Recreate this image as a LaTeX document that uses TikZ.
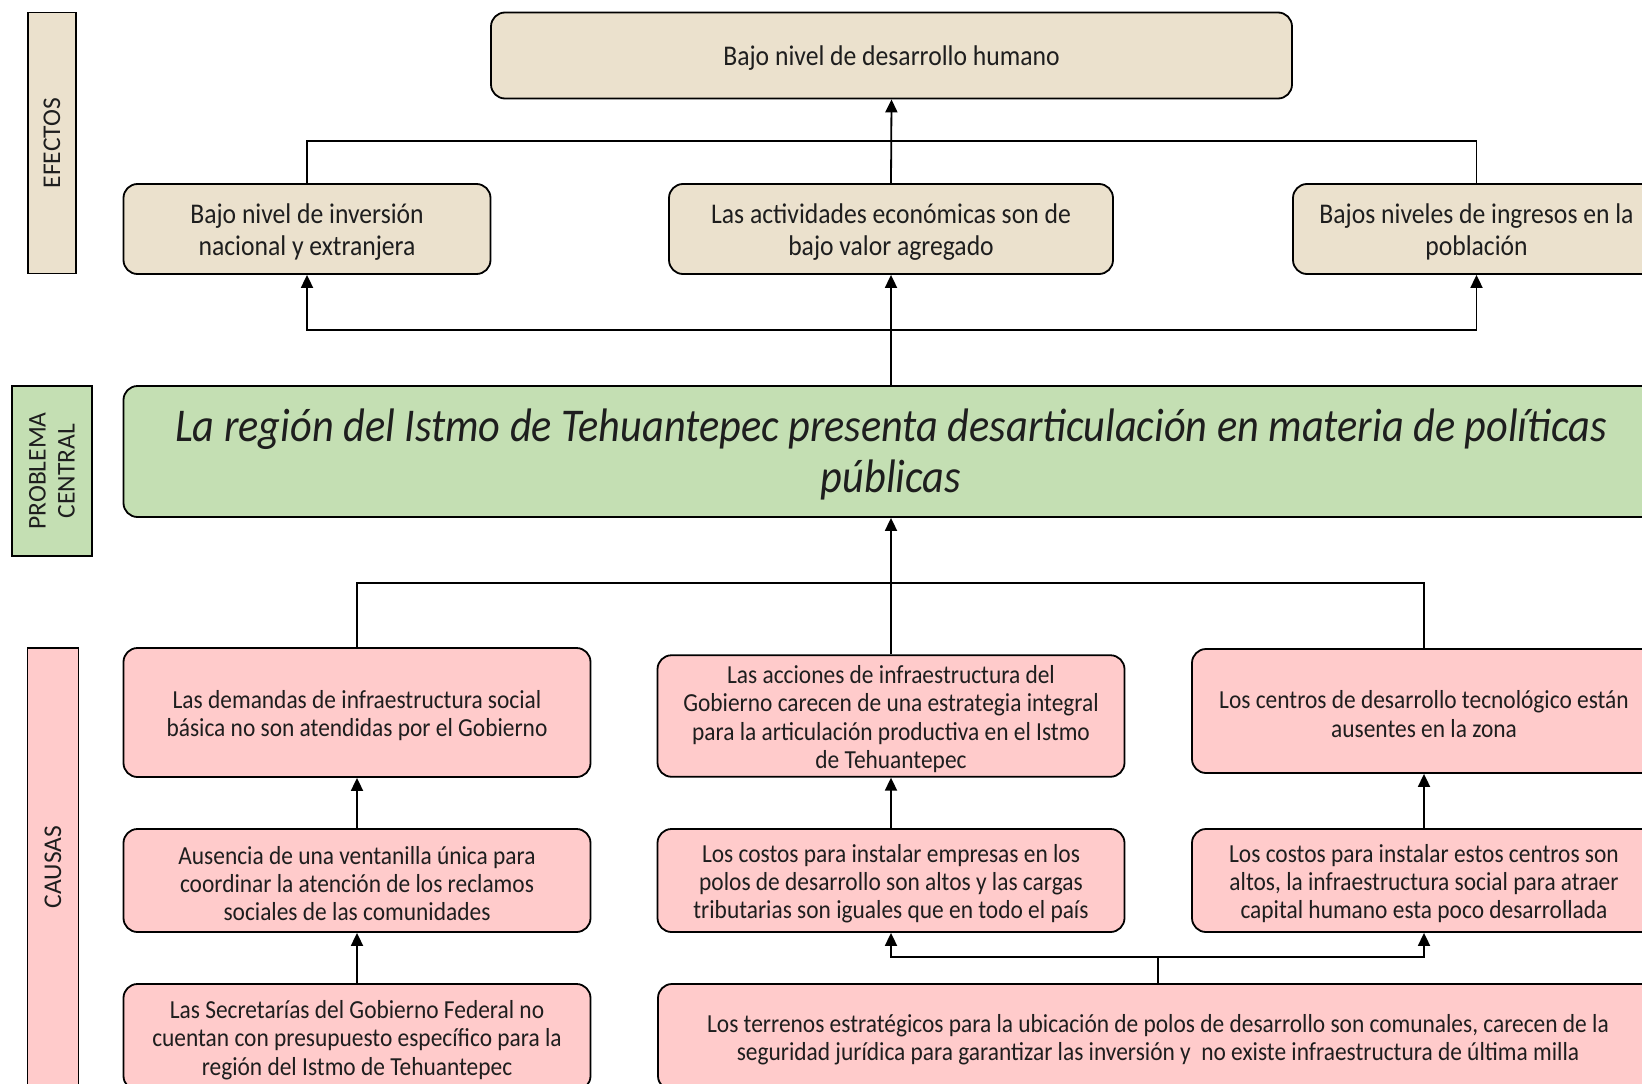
\documentclass[tikz,border=0pt]{standalone}
\usepackage{fontspec}
\setmainfont{Carlito}[FakeStretch=0.9]
\newfontfamily\plainfont{Carlito}
\usetikzlibrary{arrows.meta}
\definecolor{beige}{HTML}{EBE1CD}
\definecolor{lgreen}{HTML}{C4DFB3}
\definecolor{lpink}{HTML}{FFCBCB}
\definecolor{txt}{HTML}{1E1E1E}
\tikzset{
  box/.style={draw=black, line width=1.8pt, rounded corners=14pt, inner sep=0pt},
  effbox/.style={box, fill=beige},
  causebox/.style={box, fill=lpink},
  centralbox/.style={box, fill=lgreen},
  boxtext/.style={align=center, text=txt, inner sep=0pt},
  effboxtext/.style={boxtext, font=\fontsize{28.5}{32.5}\selectfont},
  causeboxtext/.style={boxtext, font=\fontsize{26}{28.3}\selectfont},
  centralboxtext/.style={boxtext, font=\fontsize{47}{51}\selectfont\itshape},
  sidebox/.style={draw=black, line width=1.8pt, inner sep=0pt},
  sidetext/.style={rotate=90, text=txt, align=center, font=\plainfont\fontsize{25.5}{29}\selectfont},
  conn/.style={line width=1.8pt, draw=black},
  arr/.style={conn, -{Triangle[length=13pt,width=12pt]}}
}
% box node plus its text node, text set 3pt lower
\newcommand{\bxn}[6]{%
  \node[#1, minimum width=#4pt, minimum height=#5pt] (#2) at (#3) {};
  \node[#1text] (#2t) at ([yshift=-3pt]#2.center) {#6};}
\begin{document}
\begin{tikzpicture}[x=1pt,y=-1pt]
\useasboundingbox (0,0) rectangle (1642,1084);
\clip (0,0) rectangle (1642,1084);
\fill[white] (0,0) rectangle (1642,1084);
% side labels
\node[sidebox, fill=beige, minimum width=48pt, minimum height=261pt] (lefe) at (52,143) {};
\node[sidetext] (lefet) at (52,143) {EFECTOS};
\node[sidebox, fill=lgreen, minimum width=80pt, minimum height=170pt] (lpro) at (52,471) {};
\node[sidetext] (lprot) at (52,471) {PROBLEMA\\CENTRAL};
\node[sidebox, fill=lpink, minimum width=51pt, minimum height=446pt] (lcau) at (53,871) {};
\node[sidetext] (lcaut) at (53,867) {CAUSAS};
% effects
\bxn{effbox}{top}{891.5,55.5}{801}{86}{Bajo nivel de desarrollo humano}
\bxn{effbox}{e1}{307,229}{367}{90}{Bajo nivel de inversión\\nacional y extranjera}
\bxn{effbox}{e2}{891,229}{444}{90}{Las actividades económicas son de\\bajo valor agregado}
\bxn{effbox}{e3}{1476.5,229}{367}{90}{Bajos niveles de ingresos en la\\población}
% central
\bxn{centralbox}{cen}{891,451.5}{1535}{131}{La región del Istmo de Tehuantepec presenta desarticulación en materia de políticas\\públicas}
% causes row 1
\bxn{causebox}{c1}{357,712.5}{467}{129}{Las demandas de infraestructura social\\básica no son atendidas por el Gobierno}
\bxn{causebox}{c2}{891,716}{467}{121.5}{Las acciones de infraestructura del\\Gobierno carecen de una estrategia integral\\para la articulación productiva en el Istmo\\de Tehuantepec}
\bxn{causebox}{c3}{1424,711}{464}{124}{Los centros de desarrollo tecnológico están\\ausentes en la zona}
% row 2
\bxn{causebox}{d1}{357,880.5}{467}{103}{Ausencia de una ventanilla única para\\coordinar la atención de los reclamos\\sociales de las comunidades}
\bxn{causebox}{d2}{891,880.5}{467}{103}{Los costos para instalar empresas en los\\polos de desarrollo son altos y las cargas\\tributarias son iguales que en todo el país}
\bxn{causebox}{d3}{1424,880.5}{464}{103}{Los costos para instalar estos centros son\\altos, la infraestructura social para atraer\\capital humano esta poco desarrollada}
% row 3
\bxn{causebox}{f1}{357,1037}{467}{106}{Las Secretarías del Gobierno Federal no\\cuentan con presupuesto específico para la\\región del Istmo de Tehuantepec}
\bxn{causebox}{f2}{1158,1037}{1000}{106}{Los terrenos estratégicos para la ubicación de polos de desarrollo son comunales, carecen de la\\seguridad jurídica para garantizar las inversión y \ no existe infraestructura de última milla}
% junctions
\coordinate (j1) at (891,141);
\coordinate (j2) at (891,330);
\coordinate (j3) at (891,583);
\coordinate (j4) at (1158,957);
% connectors top
\draw[conn] (e1.north) |- (j1) -| (e3.north);
\draw[arr] (e2.north) -- (top.south);
\draw[conn] (cen.north) -- (j2);
\draw[arr] (j2) -| (e1.south);
\draw[arr] (j2) -| (e3.south);
\draw[arr] (j2) -- (e2.south);
% causes
\draw[conn] (c1.north) |- (j3) -| (c3.north);
\draw[arr] (c2.north) -- (cen.south);
\draw[arr] (d1.north) -- (c1.south);
\draw[arr] (f1.north) -- (d1.south);
\draw[arr] (d2.north) -- (c2.south);
\draw[arr] (d3.north) -- (c3.south);
\draw[conn] (f2.north) -- (j4);
\draw[arr] (j4) -| (d2.south);
\draw[arr] (j4) -| (d3.south);
\end{tikzpicture}
\end{document}
